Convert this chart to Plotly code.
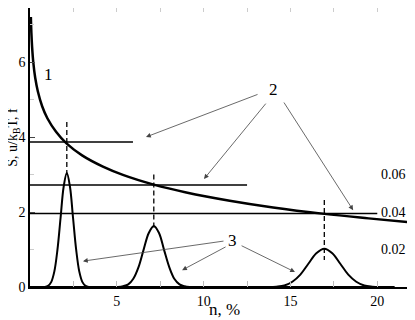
"""
Entropy curve S(n) with level lines and distribution peaks.
"""

import plotly.graph_objects as go

# curve 1: S versus n
s_x = [0.05, 0.08, 0.12, 0.19, 0.3, 0.45, 0.7, 1.0, 1.5, 2.1, 3.0, 4.2, 5.35,
       7.13, 9.0, 11.5, 14.0, 16.95, 19.5, 22.0]
s_y = [7.2, 6.77, 6.41, 5.99, 5.58, 5.22, 4.82, 4.5, 4.14, 3.83, 3.51, 3.21, 2.99,
       2.73, 2.52, 2.30, 2.12, 1.95, 1.83, 1.72]

# curves 2: horizontal levels u/kBT (value, right end)
level_y = [3.87, 2.72, 1.96]
level_end = [5.93, 12.5, 20.0]

# curves 3: distribution peaks f(n)
p1_x = [0.86, 1.04, 1.22, 1.40, 1.58, 1.76, 1.94, 2.12, 2.30, 2.48, 2.66, 2.84, 3.02, 3.20, 3.38]
p1_y = [0, 0.03, 0.13, 0.41, 0.99, 1.84, 2.68, 3.04, 2.68, 1.84, 0.99, 0.41, 0.13, 0.03, 0]
p2_x = [5.06, 5.36, 5.66, 5.95, 6.25, 6.54, 6.84, 7.13, 7.43, 7.72, 8.02, 8.31, 8.61, 8.90, 9.20]
p2_y = [0, 0.02, 0.07, 0.22, 0.53, 0.99, 1.44, 1.63, 1.44, 0.99, 0.53, 0.22, 0.07, 0.02, 0]
p3_x = [13.73, 14.19, 14.65, 15.11, 15.57, 16.03, 16.49, 16.95, 17.41, 17.87, 18.33, 18.79, 19.25, 19.71, 20.17]
p3_y = [0, 0.01, 0.04, 0.14, 0.33, 0.62, 0.90, 1.02, 0.90, 0.62, 0.33, 0.14, 0.04, 0.01, 0]
base_x = [0, 21.0]

# dashed markers (x, top, bottom)
dash_x = [2.12, 7.13, 16.95]
dash_top = [4.4, 3.0, 2.32]
dash_bot = [2.95, 1.55, 0.72]

# right axis (f) tick labels
f_ticks = [0.02, 0.04, 0.06]

# arrows: (tail x, tail y, head x, head y)
arrows_2 = [(13.19, 5.15, 6.68, 4.0), (13.65, 4.93, 10.02, 2.88), (14.57, 4.96, 18.61, 2.05)]
arrows_3 = [(11.23, 1.23, 3.05, 0.69), (11.35, 1.09, 8.76, 0.45), (12.1, 1.12, 15.26, 0.40)]

FONT = "Liberation Serif, Times New Roman, serif"

fig = go.Figure()

# baseline and peaks
fig.add_trace(go.Scatter(x=base_x, y=[0, 0], mode="lines", line=dict(color="black", width=2)))
for px_, py_ in [(p1_x, p1_y), (p2_x, p2_y), (p3_x, p3_y)]:
    fig.add_trace(go.Scatter(x=px_, y=py_, mode="lines", line=dict(color="black", width=2, shape="spline")))

# levels
for ly, le in zip(level_y, level_end):
    fig.add_trace(go.Scatter(x=[0, le], y=[ly, ly], mode="lines", line=dict(color="black", width=1.5)))

# dashed verticals
for dx, dt, db in zip(dash_x, dash_top, dash_bot):
    fig.add_trace(go.Scatter(x=[dx, dx], y=[dt, db], mode="lines",
                             line=dict(color="black", width=1.3, dash="5px,3px")))

# entropy curve
fig.add_trace(go.Scatter(x=s_x, y=s_y, mode="lines", line=dict(color="black", width=2.5, shape="spline")))

# invisible traces so the right and top axes get drawn
fig.add_trace(go.Scatter(x=[0], y=[0], yaxis="y2", mode="markers", marker=dict(opacity=0)))
fig.add_trace(go.Scatter(x=[0], y=[0], xaxis="x2", mode="markers", marker=dict(opacity=0)))

for tx, ty, hx, hy in arrows_2 + arrows_3:
    fig.add_annotation(x=hx, y=hy, ax=tx, ay=ty, xref="x", yref="y", axref="x", ayref="y",
                       text="", showarrow=True, arrowhead=2, arrowsize=1.2, arrowwidth=0.8,
                       arrowcolor="#444")

for txt, tx, ty in [("1", 1.09, 5.68), ("2", 14.0, 5.28), ("3", 11.69, 1.23)]:
    fig.add_annotation(x=tx, y=ty, text=txt, showarrow=False, font=dict(family=FONT, size=17, color="black"))

for ft in f_ticks:
    fig.add_annotation(x=1, y=ft, xref="paper", yref="y2", xanchor="right", xshift=-4,
                       text=f"{ft:.2f}", showarrow=False, font=dict(family=FONT, size=14, color="black"))

# axis titles
fig.add_annotation(x=-0.0432, y=0.537, xref="paper", yref="paper", text="S, u/k<sub>B</sub>T, f",
                   xanchor="center", yanchor="middle",
                   textangle=-90, showarrow=False, font=dict(family=FONT, size=14, color="black"))
fig.add_annotation(x=0.508, y=-0.081, xref="paper", yref="paper", text="n, %",
                   xanchor="center", yanchor="middle",
                   showarrow=False, font=dict(family=FONT, size=17, color="black"))

fig.update_layout(
    width=407, height=312,
    margin=dict(l=22, r=3, t=0, b=33),
    paper_bgcolor="white", plot_bgcolor="white",
    showlegend=False,
    font=dict(family=FONT, size=14, color="black"),
    xaxis=dict(range=[0, 22], showgrid=False, zeroline=False, showline=True, linecolor="black",
               linewidth=1.5, ticks="inside", tickvals=[5, 10, 15, 20], ticklen=6, automargin=False,
               tickcolor="#bbb", minor=dict(tickvals=[2.5, 7.5, 12.5, 17.5], ticks="inside",
                                            ticklen=6, tickcolor="#bbb")),
    xaxis2=dict(range=[0, 22], overlaying="x", side="top", showgrid=False, zeroline=False,
                showline=True, linecolor="#999", linewidth=2, ticks="inside", ticklen=4,
                tickcolor="#ccc", dtick=2.5, showticklabels=False, automargin=False),
    yaxis=dict(range=[0, 7.44], showgrid=False, zeroline=False, showline=True, linecolor="black",
               linewidth=1.5, ticks="inside", tickvals=[0, 2, 4, 6], ticklen=5, tickcolor="#444",
               automargin=False,
               minor=dict(tickvals=[1, 3, 5, 7], ticks="inside", ticklen=4, tickcolor="#ccc")),
    yaxis2=dict(range=[0, 0.1488], overlaying="y", side="right", showgrid=False, zeroline=False,
                showline=True, linecolor="#666", linewidth=1.5, ticks="inside", ticklen=5,
                tickcolor="#444", showticklabels=False, automargin=False,
                tickvals=[0.02, 0.04, 0.06, 0.08, 0.10, 0.12, 0.14]),
)

fig.write_html("out.html")
